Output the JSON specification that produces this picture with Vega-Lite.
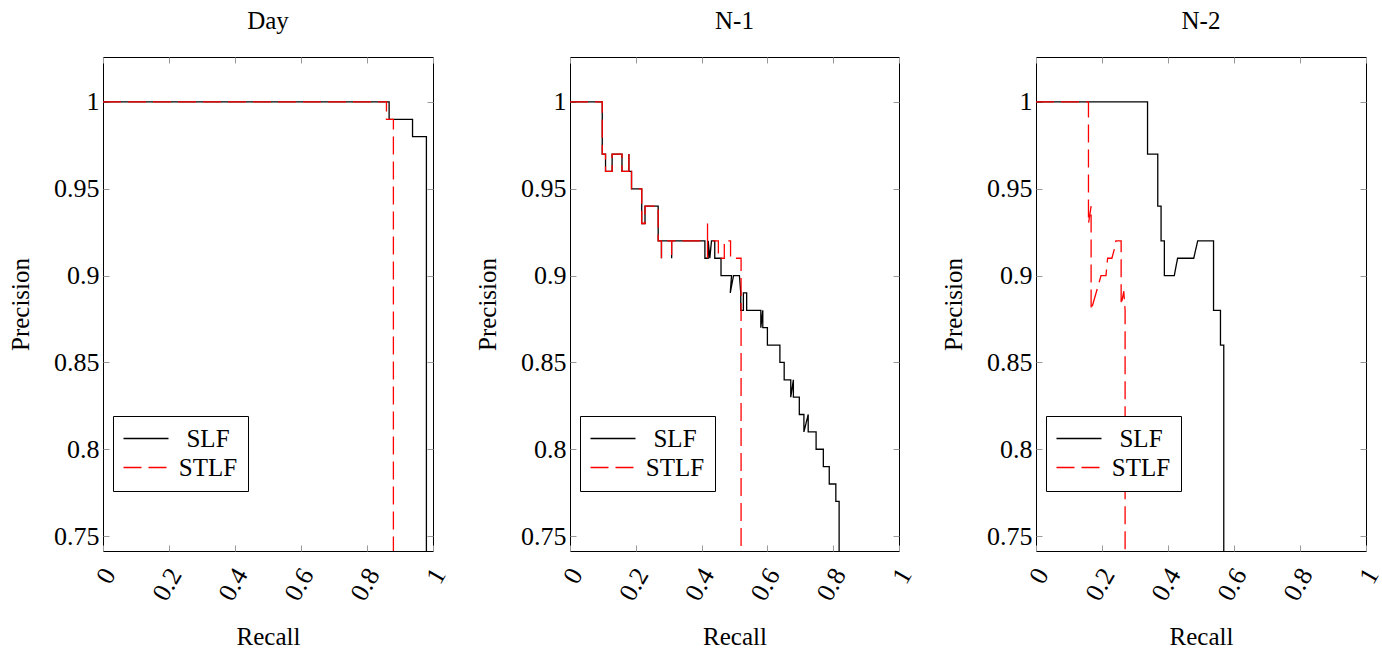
{
"$schema": "https://vega.github.io/schema/vega-lite/v6.json",
"padding": {"left": 8, "top": 8, "right": 5, "bottom": 5},
"bounds": "flush",
"spacing": 137,
"data": {"values": [
{"p":"Day","m":"SLF","i":0,"r":0,"v":1},{"p":"Day","m":"SLF","i":1,"r":0.867,"v":1},{"p":"Day","m":"SLF","i":2,"r":0.867,"v":0.99},{"p":"Day","m":"SLF","i":3,"r":0.938,"v":0.99},{"p":"Day","m":"SLF","i":4,"r":0.938,"v":0.98},{"p":"Day","m":"SLF","i":5,"r":0.98,"v":0.98},{"p":"Day","m":"SLF","i":6,"r":0.98,"v":0.7},
{"p":"Day","m":"STLF","i":0,"r":0,"v":1},{"p":"Day","m":"STLF","i":1,"r":0.859,"v":1},{"p":"Day","m":"STLF","i":2,"r":0.859,"v":0.99},{"p":"Day","m":"STLF","i":3,"r":0.88,"v":0.99},{"p":"Day","m":"STLF","i":4,"r":0.88,"v":0.7},
{"p":"N-1","m":"SLF","i":0,"r":0,"v":1},{"p":"N-1","m":"SLF","i":1,"r":0.098,"v":1},{"p":"N-1","m":"SLF","i":2,"r":0.098,"v":0.97},{"p":"N-1","m":"SLF","i":3,"r":0.108,"v":0.97},{"p":"N-1","m":"SLF","i":4,"r":0.108,"v":0.96},{"p":"N-1","m":"SLF","i":5,"r":0.128,"v":0.96},{"p":"N-1","m":"SLF","i":6,"r":0.128,"v":0.97},{"p":"N-1","m":"SLF","i":7,"r":0.158,"v":0.97},{"p":"N-1","m":"SLF","i":8,"r":0.158,"v":0.96},{"p":"N-1","m":"SLF","i":9,"r":0.179,"v":0.96},{"p":"N-1","m":"SLF","i":10,"r":0.179,"v":0.97},{"p":"N-1","m":"SLF","i":11,"r":0.179,"v":0.96},{"p":"N-1","m":"SLF","i":12,"r":0.187,"v":0.96},{"p":"N-1","m":"SLF","i":13,"r":0.187,"v":0.95},{"p":"N-1","m":"SLF","i":14,"r":0.218,"v":0.95},{"p":"N-1","m":"SLF","i":15,"r":0.218,"v":0.93},{"p":"N-1","m":"SLF","i":16,"r":0.228,"v":0.93},{"p":"N-1","m":"SLF","i":17,"r":0.228,"v":0.94},{"p":"N-1","m":"SLF","i":18,"r":0.268,"v":0.94},{"p":"N-1","m":"SLF","i":19,"r":0.268,"v":0.92},{"p":"N-1","m":"SLF","i":20,"r":0.278,"v":0.92},{"p":"N-1","m":"SLF","i":21,"r":0.278,"v":0.91},{"p":"N-1","m":"SLF","i":22,"r":0.278,"v":0.92},{"p":"N-1","m":"SLF","i":23,"r":0.309,"v":0.92},{"p":"N-1","m":"SLF","i":24,"r":0.309,"v":0.91},{"p":"N-1","m":"SLF","i":25,"r":0.309,"v":0.92},{"p":"N-1","m":"SLF","i":26,"r":0.41,"v":0.92},{"p":"N-1","m":"SLF","i":27,"r":0.41,"v":0.91},{"p":"N-1","m":"SLF","i":28,"r":0.42,"v":0.91},{"p":"N-1","m":"SLF","i":29,"r":0.42,"v":0.92},{"p":"N-1","m":"SLF","i":30,"r":0.425,"v":0.91},{"p":"N-1","m":"SLF","i":31,"r":0.43,"v":0.92},{"p":"N-1","m":"SLF","i":32,"r":0.44,"v":0.92},{"p":"N-1","m":"SLF","i":33,"r":0.44,"v":0.91},{"p":"N-1","m":"SLF","i":34,"r":0.459,"v":0.91},{"p":"N-1","m":"SLF","i":35,"r":0.459,"v":0.9},{"p":"N-1","m":"SLF","i":36,"r":0.491,"v":0.9},{"p":"N-1","m":"SLF","i":37,"r":0.487,"v":0.89},{"p":"N-1","m":"SLF","i":38,"r":0.497,"v":0.9},{"p":"N-1","m":"SLF","i":39,"r":0.515,"v":0.9},{"p":"N-1","m":"SLF","i":40,"r":0.519,"v":0.89},{"p":"N-1","m":"SLF","i":41,"r":0.519,"v":0.88},{"p":"N-1","m":"SLF","i":42,"r":0.527,"v":0.88},{"p":"N-1","m":"SLF","i":43,"r":0.527,"v":0.89},{"p":"N-1","m":"SLF","i":44,"r":0.537,"v":0.89},{"p":"N-1","m":"SLF","i":45,"r":0.537,"v":0.88},{"p":"N-1","m":"SLF","i":46,"r":0.58,"v":0.88},{"p":"N-1","m":"SLF","i":47,"r":0.58,"v":0.87},{"p":"N-1","m":"SLF","i":48,"r":0.586,"v":0.88},{"p":"N-1","m":"SLF","i":49,"r":0.586,"v":0.87},{"p":"N-1","m":"SLF","i":50,"r":0.6,"v":0.87},{"p":"N-1","m":"SLF","i":51,"r":0.6,"v":0.86},{"p":"N-1","m":"SLF","i":52,"r":0.638,"v":0.86},{"p":"N-1","m":"SLF","i":53,"r":0.638,"v":0.85},{"p":"N-1","m":"SLF","i":54,"r":0.651,"v":0.85},{"p":"N-1","m":"SLF","i":55,"r":0.651,"v":0.84},{"p":"N-1","m":"SLF","i":56,"r":0.671,"v":0.84},{"p":"N-1","m":"SLF","i":57,"r":0.671,"v":0.83},{"p":"N-1","m":"SLF","i":58,"r":0.679,"v":0.84},{"p":"N-1","m":"SLF","i":59,"r":0.679,"v":0.83},{"p":"N-1","m":"SLF","i":60,"r":0.697,"v":0.83},{"p":"N-1","m":"SLF","i":61,"r":0.697,"v":0.82},{"p":"N-1","m":"SLF","i":62,"r":0.711,"v":0.82},{"p":"N-1","m":"SLF","i":63,"r":0.711,"v":0.81},{"p":"N-1","m":"SLF","i":64,"r":0.724,"v":0.82},{"p":"N-1","m":"SLF","i":65,"r":0.724,"v":0.81},{"p":"N-1","m":"SLF","i":66,"r":0.748,"v":0.81},{"p":"N-1","m":"SLF","i":67,"r":0.748,"v":0.8},{"p":"N-1","m":"SLF","i":68,"r":0.77,"v":0.8},{"p":"N-1","m":"SLF","i":69,"r":0.77,"v":0.79},{"p":"N-1","m":"SLF","i":70,"r":0.788,"v":0.79},{"p":"N-1","m":"SLF","i":71,"r":0.788,"v":0.78},{"p":"N-1","m":"SLF","i":72,"r":0.808,"v":0.78},{"p":"N-1","m":"SLF","i":73,"r":0.808,"v":0.77},{"p":"N-1","m":"SLF","i":74,"r":0.818,"v":0.77},{"p":"N-1","m":"SLF","i":75,"r":0.818,"v":0.7},
{"p":"N-1","m":"STLF","i":0,"r":0,"v":1},{"p":"N-1","m":"STLF","i":1,"r":0.098,"v":1},{"p":"N-1","m":"STLF","i":2,"r":0.098,"v":0.97},{"p":"N-1","m":"STLF","i":3,"r":0.108,"v":0.97},{"p":"N-1","m":"STLF","i":4,"r":0.108,"v":0.96},{"p":"N-1","m":"STLF","i":5,"r":0.128,"v":0.96},{"p":"N-1","m":"STLF","i":6,"r":0.128,"v":0.97},{"p":"N-1","m":"STLF","i":7,"r":0.158,"v":0.97},{"p":"N-1","m":"STLF","i":8,"r":0.158,"v":0.96},{"p":"N-1","m":"STLF","i":9,"r":0.179,"v":0.96},{"p":"N-1","m":"STLF","i":10,"r":0.179,"v":0.97},{"p":"N-1","m":"STLF","i":11,"r":0.179,"v":0.96},{"p":"N-1","m":"STLF","i":12,"r":0.187,"v":0.96},{"p":"N-1","m":"STLF","i":13,"r":0.187,"v":0.95},{"p":"N-1","m":"STLF","i":14,"r":0.218,"v":0.95},{"p":"N-1","m":"STLF","i":15,"r":0.218,"v":0.93},{"p":"N-1","m":"STLF","i":16,"r":0.228,"v":0.93},{"p":"N-1","m":"STLF","i":17,"r":0.228,"v":0.94},{"p":"N-1","m":"STLF","i":18,"r":0.268,"v":0.94},{"p":"N-1","m":"STLF","i":19,"r":0.268,"v":0.92},{"p":"N-1","m":"STLF","i":20,"r":0.278,"v":0.92},{"p":"N-1","m":"STLF","i":21,"r":0.278,"v":0.91},{"p":"N-1","m":"STLF","i":22,"r":0.278,"v":0.92},{"p":"N-1","m":"STLF","i":23,"r":0.309,"v":0.92},{"p":"N-1","m":"STLF","i":24,"r":0.309,"v":0.91},{"p":"N-1","m":"STLF","i":25,"r":0.309,"v":0.92},{"p":"N-1","m":"STLF","i":26,"r":0.418,"v":0.92},{"p":"N-1","m":"STLF","i":27,"r":0.418,"v":0.93},{"p":"N-1","m":"STLF","i":28,"r":0.418,"v":0.91},{"p":"N-1","m":"STLF","i":29,"r":0.418,"v":0.92},{"p":"N-1","m":"STLF","i":30,"r":0.451,"v":0.92},{"p":"N-1","m":"STLF","i":31,"r":0.451,"v":0.91},{"p":"N-1","m":"STLF","i":32,"r":0.469,"v":0.91},{"p":"N-1","m":"STLF","i":33,"r":0.469,"v":0.92},{"p":"N-1","m":"STLF","i":34,"r":0.488,"v":0.92},{"p":"N-1","m":"STLF","i":35,"r":0.488,"v":0.91},{"p":"N-1","m":"STLF","i":36,"r":0.52,"v":0.91},{"p":"N-1","m":"STLF","i":37,"r":0.52,"v":0.7},
{"p":"N-2","m":"SLF","i":0,"r":0,"v":1},{"p":"N-2","m":"SLF","i":1,"r":0.338,"v":1},{"p":"N-2","m":"SLF","i":2,"r":0.338,"v":0.97},{"p":"N-2","m":"SLF","i":3,"r":0.369,"v":0.97},{"p":"N-2","m":"SLF","i":4,"r":0.369,"v":0.94},{"p":"N-2","m":"SLF","i":5,"r":0.379,"v":0.94},{"p":"N-2","m":"SLF","i":6,"r":0.379,"v":0.92},{"p":"N-2","m":"SLF","i":7,"r":0.389,"v":0.92},{"p":"N-2","m":"SLF","i":8,"r":0.389,"v":0.9},{"p":"N-2","m":"SLF","i":9,"r":0.419,"v":0.9},{"p":"N-2","m":"SLF","i":10,"r":0.429,"v":0.91},{"p":"N-2","m":"SLF","i":11,"r":0.478,"v":0.91},{"p":"N-2","m":"SLF","i":12,"r":0.49,"v":0.92},{"p":"N-2","m":"SLF","i":13,"r":0.538,"v":0.92},{"p":"N-2","m":"SLF","i":14,"r":0.538,"v":0.88},{"p":"N-2","m":"SLF","i":15,"r":0.559,"v":0.88},{"p":"N-2","m":"SLF","i":16,"r":0.559,"v":0.86},{"p":"N-2","m":"SLF","i":17,"r":0.569,"v":0.86},{"p":"N-2","m":"SLF","i":18,"r":0.569,"v":0.7},
{"p":"N-2","m":"STLF","i":0,"r":0,"v":1},{"p":"N-2","m":"STLF","i":1,"r":0.159,"v":1},{"p":"N-2","m":"STLF","i":2,"r":0.159,"v":0.93},{"p":"N-2","m":"STLF","i":3,"r":0.167,"v":0.94},{"p":"N-2","m":"STLF","i":4,"r":0.167,"v":0.88},{"p":"N-2","m":"STLF","i":5,"r":0.182,"v":0.89},{"p":"N-2","m":"STLF","i":6,"r":0.197,"v":0.9},{"p":"N-2","m":"STLF","i":7,"r":0.212,"v":0.9},{"p":"N-2","m":"STLF","i":8,"r":0.217,"v":0.91},{"p":"N-2","m":"STLF","i":9,"r":0.23,"v":0.91},{"p":"N-2","m":"STLF","i":10,"r":0.237,"v":0.915},{"p":"N-2","m":"STLF","i":11,"r":0.242,"v":0.92},{"p":"N-2","m":"STLF","i":12,"r":0.258,"v":0.92},{"p":"N-2","m":"STLF","i":13,"r":0.258,"v":0.883},{"p":"N-2","m":"STLF","i":14,"r":0.266,"v":0.891},{"p":"N-2","m":"STLF","i":15,"r":0.27,"v":0.88},{"p":"N-2","m":"STLF","i":16,"r":0.27,"v":0.7}
]},
"resolve": {"legend": {"color": "independent", "strokeDash": "independent"}},
"hconcat": [
{"title": "Day", "width": 330, "height": 494, "transform": [{"filter": "datum.p === 'Day'"}],
 "layer": [
  {"mark": {"type": "line", "clip": true, "strokeWidth": 1.3},
   "encoding": {
    "x": {"field": "r", "type": "quantitative", "scale": {"domain": [0, 1], "nice": false}, "axis": {"values": [0, 0.2, 0.4, 0.6, 0.8, 1], "format": "~g", "title": "Recall", "labelAngle": -60, "labelAlign": "right", "labelBaseline": "middle", "labelPadding": 25, "labelOffset": 6, "titlePadding": 20}},
    "y": {"field": "v", "type": "quantitative", "scale": {"domain": [0.7414, 1.0259], "nice": false, "zero": false}, "axis": {"values": [0.75, 0.8, 0.85, 0.9, 0.95, 1], "format": "~g", "title": "Precision", "labelPadding": 10, "titlePadding": 20}},
    "color": {"field": "m", "type": "nominal", "scale": {"domain": ["SLF", "STLF"], "range": ["black", "red"]}, "legend": {"title": null}},
    "strokeDash": {"field": "m", "type": "nominal", "scale": {"domain": ["SLF", "STLF"], "range": [[1, 0], [18, 7]]}, "legend": {"title": null}},
    "order": {"field": "i", "type": "quantitative"}
   }},
  {"mark": {"type": "point", "opacity": 0, "clip": true},
   "encoding": {
    "x": {"field": "r", "type": "quantitative", "axis": {"orient": "top", "values": [0, 0.2, 0.4, 0.6, 0.8, 1], "labels": false, "title": null}},
    "y": {"field": "v", "type": "quantitative", "axis": {"orient": "right", "values": [0.75, 0.8, 0.85, 0.9, 0.95, 1], "labels": false, "title": null}}
   }}
 ],
 "resolve": {"axis": {"x": "independent", "y": "independent"}}
},
{"title": "N-1", "width": 329, "height": 494, "transform": [{"filter": "datum.p === 'N-1'"}],
 "layer": [
  {"mark": {"type": "line", "clip": true, "strokeWidth": 1.3},
   "encoding": {
    "x": {"field": "r", "type": "quantitative", "scale": {"domain": [0, 1], "nice": false}, "axis": {"values": [0, 0.2, 0.4, 0.6, 0.8, 1], "format": "~g", "title": "Recall", "labelAngle": -60, "labelAlign": "right", "labelBaseline": "middle", "labelPadding": 25, "labelOffset": 6, "titlePadding": 20}},
    "y": {"field": "v", "type": "quantitative", "scale": {"domain": [0.7414, 1.0259], "nice": false, "zero": false}, "axis": {"values": [0.75, 0.8, 0.85, 0.9, 0.95, 1], "format": "~g", "title": "Precision", "labelPadding": 10, "titlePadding": 20}},
    "color": {"field": "m", "type": "nominal", "scale": {"domain": ["SLF", "STLF"], "range": ["black", "red"]}, "legend": {"title": null}},
    "strokeDash": {"field": "m", "type": "nominal", "scale": {"domain": ["SLF", "STLF"], "range": [[1, 0], [18, 7]]}, "legend": {"title": null}},
    "order": {"field": "i", "type": "quantitative"}
   }},
  {"mark": {"type": "point", "opacity": 0, "clip": true},
   "encoding": {
    "x": {"field": "r", "type": "quantitative", "axis": {"orient": "top", "values": [0, 0.2, 0.4, 0.6, 0.8, 1], "labels": false, "title": null}},
    "y": {"field": "v", "type": "quantitative", "axis": {"orient": "right", "values": [0.75, 0.8, 0.85, 0.9, 0.95, 1], "labels": false, "title": null}}
   }}
 ],
 "resolve": {"axis": {"x": "independent", "y": "independent"}}
},
{"title": "N-2", "width": 330, "height": 494, "transform": [{"filter": "datum.p === 'N-2'"}],
 "layer": [
  {"mark": {"type": "line", "clip": true, "strokeWidth": 1.3},
   "encoding": {
    "x": {"field": "r", "type": "quantitative", "scale": {"domain": [0, 1], "nice": false}, "axis": {"values": [0, 0.2, 0.4, 0.6, 0.8, 1], "format": "~g", "title": "Recall", "labelAngle": -60, "labelAlign": "right", "labelBaseline": "middle", "labelPadding": 25, "labelOffset": 6, "titlePadding": 20}},
    "y": {"field": "v", "type": "quantitative", "scale": {"domain": [0.7414, 1.0259], "nice": false, "zero": false}, "axis": {"values": [0.75, 0.8, 0.85, 0.9, 0.95, 1], "format": "~g", "title": "Precision", "labelPadding": 10, "titlePadding": 20}},
    "color": {"field": "m", "type": "nominal", "scale": {"domain": ["SLF", "STLF"], "range": ["black", "red"]}, "legend": {"title": null}},
    "strokeDash": {"field": "m", "type": "nominal", "scale": {"domain": ["SLF", "STLF"], "range": [[1, 0], [18, 7]]}, "legend": {"title": null}},
    "order": {"field": "i", "type": "quantitative"}
   }},
  {"mark": {"type": "point", "opacity": 0, "clip": true},
   "encoding": {
    "x": {"field": "r", "type": "quantitative", "axis": {"orient": "top", "values": [0, 0.2, 0.4, 0.6, 0.8, 1], "labels": false, "title": null}},
    "y": {"field": "v", "type": "quantitative", "axis": {"orient": "right", "values": [0.75, 0.8, 0.85, 0.9, 0.95, 1], "labels": false, "title": null}}
   }}
 ],
 "resolve": {"axis": {"x": "independent", "y": "independent"}}
}
],
"config": {
 "font": "Liberation Serif",
 "view": {"stroke": "black", "strokeWidth": 1},
 "axis": {"grid": false, "domain": false, "tickColor": "#999999", "tickSize": -6, "tickWidth": 1, "labelFont": "Liberation Serif", "labelFontSize": 26, "labelColor": "black", "titleFont": "Liberation Serif", "titleFontSize": 25, "titleFontWeight": "normal", "titleColor": "black"},
 "title": {"font": "Liberation Serif", "fontSize": 25, "fontWeight": "normal", "color": "black", "offset": 23},
 "legend": {"orient": "none", "legendX": 10, "legendY": 359, "fillColor": "white", "strokeColor": "black", "padding": 10, "symbolType": "M-1.6,0H4.4", "symbolSize": 225, "symbolStrokeWidth": 1.3, "labelFont": "Liberation Serif", "labelFontSize": 25, "labelColor": "black", "rowPadding": 3, "labelAlign": "center", "labelOffset": 60}
}
}
